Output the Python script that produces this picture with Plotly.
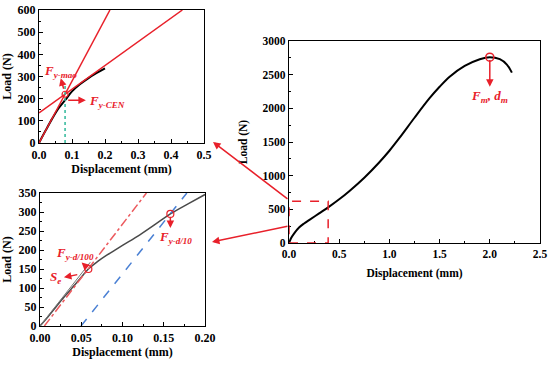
import plotly.graph_objects as go

# ---------------- data ----------------
# right: full load-displacement curve
main_disp = [0, 0.01, 0.02, 0.05, 0.1, 0.15, 0.2, 0.3, 0.39, 0.5, 0.6, 0.75, 0.9, 1.0,
             1.1, 1.25, 1.4, 1.5, 1.6, 1.75, 1.9, 2.0, 2.1, 2.17, 2.22]
main_load = [0, 35, 70, 140, 230, 290, 340, 440, 530, 650, 770, 970, 1200, 1370,
             1560, 1860, 2150, 2320, 2470, 2630, 2730, 2760, 2730, 2650, 2530]
peak_point = [2.0, 2760]

# top-left: initial region with tangent lines
tl_disp = [0, 0.02, 0.04, 0.06, 0.079, 0.1, 0.124, 0.15, 0.175, 0.2]
tl_load = [0, 56, 110, 158, 193, 233, 265, 293, 316, 337]
steep_line_x = [0, 0.215]
steep_line_y = [0, 600]
tangent_line_x = [0, 0.4345]
tangent_line_y = [136, 600]
fy_mao = [0.079, 220]
fy_cen_x = [0.079, 0.079]
fy_cen_y = [0, 262]

# bottom-left: offset method
bl_disp = [0, 0.01, 0.02, 0.03, 0.04, 0.05, 0.0586, 0.07, 0.08, 0.089, 0.1, 0.121, 0.14, 0.158, 0.18, 0.2]
bl_load = [0, 25, 52, 78, 103, 128, 150, 170, 185, 197, 212, 240, 268, 295, 322, 346]
se_line_x = [0, 0.061]
se_line_y = [0, 168]
red_offset_x = [0.0053, 0.129]
red_offset_y = [0, 350]
blue_offset_x = [0.0497, 0.178]
blue_offset_y = [0, 350]
fy_d100 = [0.0586, 150]
fy_d10 = [0.158, 295]

# zoom box on main plot
box_x = [0, 0.39]
box_y = [0, 620]

RED = "#e8202a"
FONT = "Times New Roman, Liberation Serif, serif"

fig = go.Figure()

# right plot
fig.add_trace(go.Scatter(x=main_disp, y=main_load, mode="lines", line=dict(color="black", width=2, shape="spline"),
                         xaxis="x3", yaxis="y3", showlegend=False))
fig.add_trace(go.Scatter(x=[peak_point[0]], y=[peak_point[1]], mode="markers",
                         marker=dict(symbol="circle-open", color=RED, size=8, line=dict(width=1.5)),
                         xaxis="x3", yaxis="y3", showlegend=False))

# top-left
fig.add_trace(go.Scatter(x=tl_disp, y=tl_load, mode="lines", line=dict(color="black", width=2, shape="spline"),
                         xaxis="x", yaxis="y", showlegend=False))
fig.add_trace(go.Scatter(x=steep_line_x, y=steep_line_y, mode="lines", line=dict(color=RED, width=1.5),
                         xaxis="x", yaxis="y", showlegend=False))
fig.add_trace(go.Scatter(x=tangent_line_x, y=tangent_line_y, mode="lines", line=dict(color=RED, width=1.5),
                         xaxis="x", yaxis="y", showlegend=False))
fig.add_trace(go.Scatter(x=fy_cen_x, y=fy_cen_y, mode="lines", line=dict(color="#2fb89a", width=1.5, dash="dot"),
                         xaxis="x", yaxis="y", showlegend=False))
fig.add_trace(go.Scatter(x=[fy_mao[0]], y=[fy_mao[1]], mode="markers",
                         marker=dict(symbol="circle-open", color=RED, size=6, line=dict(width=1.2)),
                         xaxis="x", yaxis="y", showlegend=False))

# bottom-left
fig.add_trace(go.Scatter(x=bl_disp, y=bl_load, mode="lines", line=dict(color="#4a4a4a", width=1.5, shape="spline"),
                         xaxis="x2", yaxis="y2", showlegend=False))
fig.add_trace(go.Scatter(x=se_line_x, y=se_line_y, mode="lines", line=dict(color="#777777", width=1),
                         xaxis="x2", yaxis="y2", showlegend=False))
fig.add_trace(go.Scatter(x=red_offset_x, y=red_offset_y, mode="lines", line=dict(color="#ec5a5e", width=1.5, dash="dashdot"),
                         xaxis="x2", yaxis="y2", showlegend=False))
fig.add_trace(go.Scatter(x=blue_offset_x, y=blue_offset_y, mode="lines", line=dict(color="#4a80d4", width=1.5, dash="dash"),
                         xaxis="x2", yaxis="y2", showlegend=False))
fig.add_trace(go.Scatter(x=[fy_d100[0], fy_d10[0]], y=[fy_d100[1], fy_d10[1]], mode="markers",
                         marker=dict(symbol="circle-open", color=RED, size=7, line=dict(width=1.2)),
                         xaxis="x2", yaxis="y2", showlegend=False))

W, H = 550, 365
def px(x): return x / W
def py(y): return 1 - y / H

def axis_common(size, title, standoff):
    return dict(showline=True, linecolor="black", linewidth=1.2, mirror=True, showgrid=False, zeroline=False,
                ticks="inside", ticklen=4, tickwidth=1, tickcolor="black", automargin=False,
                tickfont=dict(family=FONT, size=size, color="black", weight=700),
                title=dict(text=title, standoff=standoff,
                           font=dict(family=FONT, size=size, color="black", weight=700)))

fig.update_layout(
    width=W, height=H, margin=dict(l=0, r=0, t=0, b=0, autoexpand=False),
    paper_bgcolor="white", plot_bgcolor="white", hovermode=False,
    xaxis=dict(domain=[px(39), px(204)], anchor="y", range=[0, 0.5], dtick=0.1, tickformat=".1f",
               minor=dict(ticks="inside", ticklen=2, dtick=0.05, tickcolor="black"),
               **axis_common(12, "Displacement (mm)", 4)),
    yaxis=dict(domain=[py(143), py(10)], anchor="x", range=[0, 600], dtick=100,
               minor=dict(ticks="inside", ticklen=2, dtick=50, tickcolor="black"),
               **axis_common(12, "Load (N)", 4)),
    xaxis2=dict(domain=[px(40), px(205)], anchor="y2", range=[0, 0.2], dtick=0.05, tickformat=".2f",
                minor=dict(ticks="inside", ticklen=2, dtick=0.025, tickcolor="black"),
                **axis_common(12, "Displacement (mm)", 4)),
    yaxis2=dict(domain=[py(326), py(193)], anchor="x2", range=[0, 350], dtick=50,
                minor=dict(ticks="inside", ticklen=2, dtick=25, tickcolor="black"),
                **axis_common(12, "Load (N)", 4)),
    xaxis3=dict(domain=[px(289), px(540)], anchor="y3", range=[0, 2.5], dtick=0.5, tickformat=".1f",
                minor=dict(ticks="inside", ticklen=2, dtick=0.25, tickcolor="black"),
                **axis_common(11.5, "Displacement (mm)", 10)),
    yaxis3=dict(domain=[py(243), py(41)], anchor="x3", range=[0, 3000], dtick=500,
                minor=dict(ticks="inside", ticklen=2, dtick=250, tickcolor="black"),
                **axis_common(11.5, "Load (N)", 12)),
)

# dashed zoom box
fig.add_shape(type="rect", xref="x3", yref="y3", x0=box_x[0], x1=box_x[1], y0=box_y[0], y1=box_y[1],
              line=dict(color=RED, width=1.5, dash="dash"))

LBL = dict(family=FONT, size=13, color=RED)

def arrow(xref, yref, head, tail, width=1.5, size=1):
    fig.add_annotation(xref=xref, yref=yref, axref=xref, ayref=yref, x=head[0], y=head[1], ax=tail[0], ay=tail[1],
                       text="", showarrow=True, arrowhead=2, arrowsize=size, arrowwidth=width, arrowcolor=RED)

def label(xref, yref, x, y, text, xanchor="center"):
    fig.add_annotation(xref=xref, yref=yref, x=x, y=y, text=text, showarrow=False, font=LBL,
                       xanchor=xanchor, yanchor="middle")

# top-left annotations
arrow("x", "y", (0.066, 292), (0.076, 238))
label("x", "y", 0.066, 323, "<b><i>F</i><sub><i>y-mao</i></sub></b>")
arrow("x", "y", (0.142, 193), (0.084, 193))
label("x", "y", 0.146, 186, "<b><i>F</i><sub><i>y-CEN</i></sub></b>", xanchor="left")

# bottom-left annotations
arrow("x2", "y2", (0.0505, 167), (0.057, 154))
label("x2", "y2", 0.042, 192, "<b><i>F</i><sub><i>y-d/100</i></sub></b>")
arrow("x2", "y2", (0.029, 128), (0.047, 136))
label("x2", "y2", 0.019, 127, "<b><i>S</i><sub><i>e</i></sub></b>")
arrow("x2", "y2", (0.158, 258), (0.158, 290))
label("x2", "y2", 0.164, 234, "<b><i>F</i><sub><i>y-d/10</i></sub></b>")

# right annotations
arrow("x3", "y3", (2.0, 2320), (2.0, 2740))
label("x3", "y3", 2.0, 2180, "<b><i>F</i><sub><i>m</i></sub><i>, d</i><sub><i>m</i></sub></b>")

# connector arrows (pixel layout)
fig.add_annotation(xref="paper", yref="paper", x=px(213), y=py(142), ax=76, ay=58, text="", showarrow=True,
                   arrowhead=2, arrowsize=1, arrowwidth=1.5, arrowcolor=RED)
fig.add_annotation(xref="paper", yref="paper", x=px(212), y=py(242), ax=77, ay=-16, text="", showarrow=True,
                   arrowhead=2, arrowsize=1, arrowwidth=1.5, arrowcolor=RED)

fig.write_html("out.html", config={"displayModeBar": False, "staticPlot": True},
               post_script="document.body.style.margin='0';")
